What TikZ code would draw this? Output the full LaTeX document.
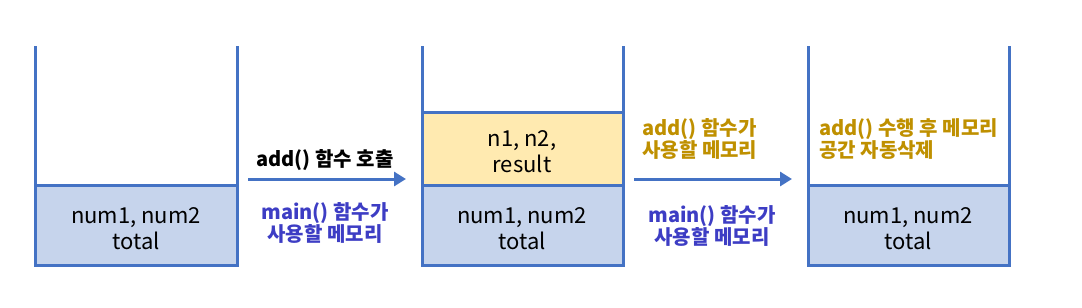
\documentclass[tikz,border=0pt]{standalone}
\usepackage{fontspec}
\setmainfont{Noto Sans CJK KR}
\usetikzlibrary{arrows.meta}
\definecolor{stackline}{HTML}{4472C4}
\definecolor{bluefill}{HTML}{C6D4EC}
\definecolor{yellowfill}{HTML}{FFEAB0}
\definecolor{goldtext}{HTML}{BF9000}
\definecolor{bluetext}{HTML}{3D3DC4}
\tikzset{
  wall/.style={draw=stackline, line width=1.5pt},
  boxtext/.style={font=\fontsize{11}{13}\selectfont, align=center, text=black, inner sep=0pt},
  lbl/.style={font=\bfseries\fontsize{10}{11.3}\selectfont, inner sep=0pt},
  bluelbl/.style={lbl, text=bluetext, align=center},
  goldlbl/.style={lbl, text=goldtext, align=left, anchor=west},
  flow/.style={draw=stackline, line width=1.5pt, -{Triangle[length=6pt,width=7pt]}}
}
\begin{document}
\begin{tikzpicture}[x=0.5pt,y=-0.5pt]
\useasboundingbox (0,0) rectangle (1082,307);
% stack 1
\fill[bluefill] (35,185) rectangle (237,265);
\draw[wall] (35,46) -- (35,265) -- (237,265) -- (237,46);
\draw[wall] (35,185) -- (237,185);
\node[boxtext] (s1main) at (136,229) {num1, num2\\total};
% stack 2
\fill[yellowfill] (422,112) rectangle (623,185);
\fill[bluefill] (422,185) rectangle (623,265);
\draw[wall] (422,46) -- (422,265) -- (623,265) -- (623,46);
\draw[wall] (422,112) -- (623,112);
\draw[wall] (422,185) -- (623,185);
\node[boxtext] (s2add) at (522,152) {n1, n2,\\result};
\node[boxtext] (s2main) at (522,229) {num1, num2\\total};
% stack 3
\fill[bluefill] (808,185) rectangle (1009,265);
\draw[wall] (808,46) -- (808,265) -- (1009,265) -- (1009,46);
\draw[wall] (808,185) -- (1009,185);
\node[boxtext] (s3main) at (908,229) {num1, num2\\total};
\node[goldlbl] (s3note) at (819,139) {add() 수행 후 메모리\\공간 자동삭제};
% arrows
\coordinate (a1s) at (248,179);
\coordinate (a1e) at (406,179);
\draw[flow] (a1s) -- (a1e);
\node[lbl] (call) at (325,160) {add() 함수 호출};
\node[bluelbl] (m1) at (325,223) {main() 함수가\\사용할 메모리};
\coordinate (a2s) at (634,179);
\coordinate (a2e) at (792,179);
\draw[flow] (a2s) -- (a2e);
\node[goldlbl] (addmem) at (642,139) {add() 함수가\\사용할 메모리};
\node[bluelbl] (m2) at (712,226) {main() 함수가\\사용할 메모리};
\end{tikzpicture}
\end{document}
